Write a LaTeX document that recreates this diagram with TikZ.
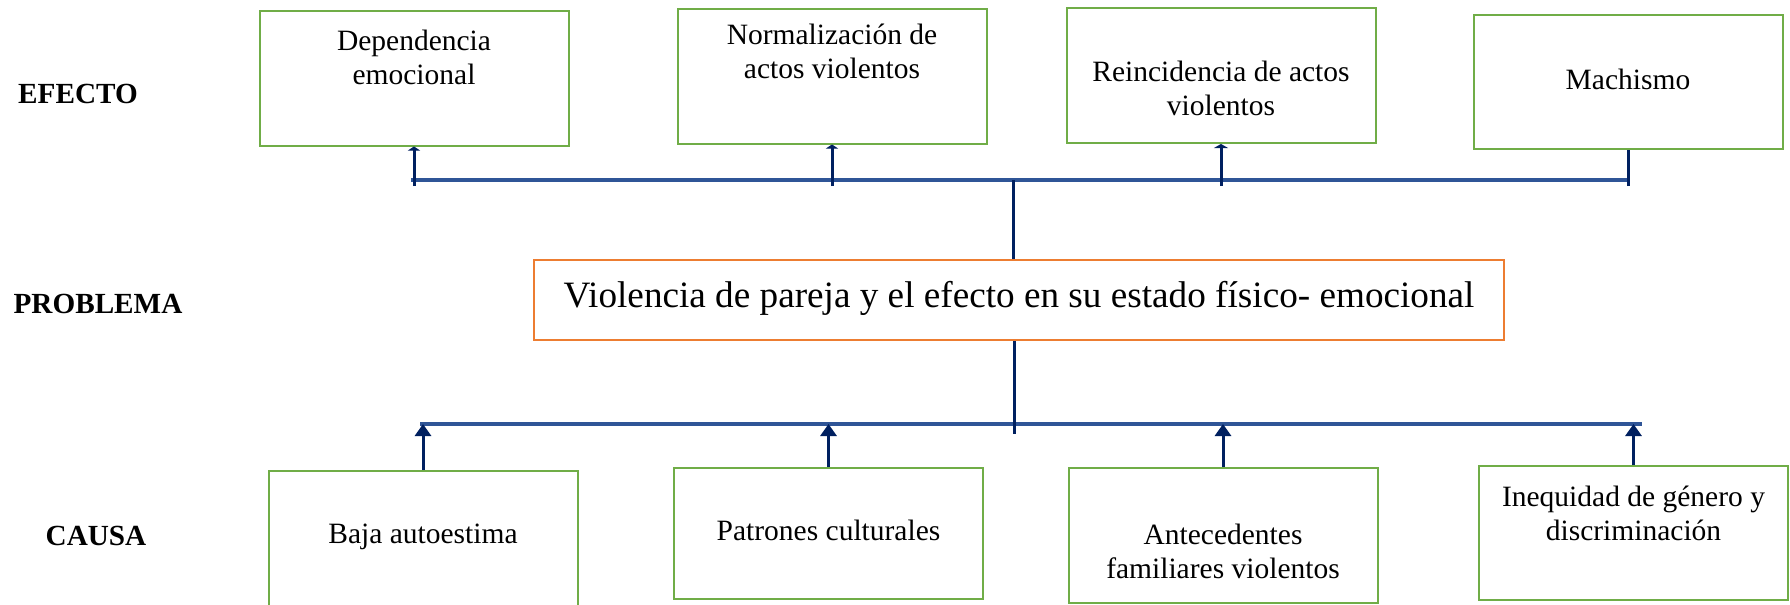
\documentclass[tikz,border=0pt]{standalone}
\usepackage{fontspec}
\setmainfont{Liberation Serif}
\usetikzlibrary{arrows.meta}
\definecolor{verde}{HTML}{70AD47}
\definecolor{naranja}{HTML}{ED7D31}
\definecolor{azul}{HTML}{2F5597}
\definecolor{marino}{HTML}{002060}

\begin{document}
\begin{tikzpicture}[x=0.5pt, y=-0.5pt,
  caja/.style={draw=verde, line width=1pt, minimum width=154.5pt, minimum height=#1, inner sep=0pt},
  txt/.style={align=center, font=\fontsize{14.75}{17}\selectfont},
  rotulo/.style={font=\bfseries\fontsize{14.6}{17}\selectfont},
  barra/.style={draw=azul, line width=1.6pt},
  tallo/.style={draw=marino, line width=1.5pt},
  punta/.style={-{Triangle[length=2pt, width=#1]}},
  flecha/.style={-{Triangle[length=6pt, width=8pt]}}]
\useasboundingbox (0,0) rectangle (1790,605);

\node[rotulo] (efecto) at (78,93.5) {EFECTO};
\node[rotulo] (problema) at (98,303.5) {PROBLEMA};
\node[rotulo] (causa) at (96,535.5) {CAUSA};

\node[caja=67.5pt, label={[txt, yshift=10.5pt]center:Dependencia\\emocional}] (e1) at (414,78) {};
\node[caja=67.5pt, label={[txt, yshift=12.5pt]center:Normalización de\\actos violentos}] (e2) at (832,76) {};
\node[caja=67.5pt, label={[txt, yshift=-6.5pt]center:Reincidencia de actos\\violentos}] (e3) at (1221,75.5) {};
\node[caja=67pt, label={[txt, yshift=1.2pt]center:Machismo}] (e4) at (1628,82) {};

\node[draw=naranja, line width=1pt, minimum width=485pt, minimum height=40pt, inner sep=0pt,
  label={[font=\fontsize{18.6}{22}\selectfont, yshift=0.8pt]center:Violencia de pareja y el efecto en su estado físico- emocional}] (p) at (1019,300) {};

\node[caja=67.5pt, label={[txt, yshift=0.75pt]center:Baja autoestima}] (c1) at (423,538.5) {};
\node[caja=65.5pt, label={[txt, yshift=1.5pt]center:Patrones culturales}] (c2) at (828.5,533.5) {};
\node[caja=67.5pt, label={[txt, yshift=-7.75pt]center:Antecedentes\\familiares violentos}] (c3) at (1223,535.5) {};
\node[caja=67pt, label={[txt, yshift=9.75pt]center:Inequidad de género y\\discriminación}] (c4) at (1633.5,533) {};

\coordinate (efl) at (411,180);
\coordinate (efr) at (1629,180);
\coordinate (cal) at (420,424);
\coordinate (car) at (1642,424);
\coordinate (eje) at (1013,300);
\coordinate (ejeb) at (1014,434);

\draw[barra] (efl) -- (efr);
\draw[barra] (cal) -- (car);

\draw[tallo] (eje |- p.north) -- (eje |- efl);
\draw[tallo] (ejeb |- p.south) -- (ejeb);

\draw[tallo, punta=6pt] ([yshift=-3pt]e1.south |- efl) -- (e1.south);
\draw[tallo, punta=6pt] ([yshift=-3pt]e2.south |- efl) -- (e2.south);
\draw[tallo, punta=7pt] ([yshift=-3pt]e3.south |- efl) -- (e3.south);
\draw[tallo] ([yshift=-3pt]e4.south |- efl) -- (e4.south);

\draw[tallo, flecha] (c1.north) -- (c1.north |- cal);
\draw[tallo, flecha] (c2.north) -- (c2.north |- cal);
\draw[tallo, flecha] (c3.north) -- (c3.north |- cal);
\draw[tallo, flecha] (c4.north) -- (c4.north |- cal);
\end{tikzpicture}
\end{document}
